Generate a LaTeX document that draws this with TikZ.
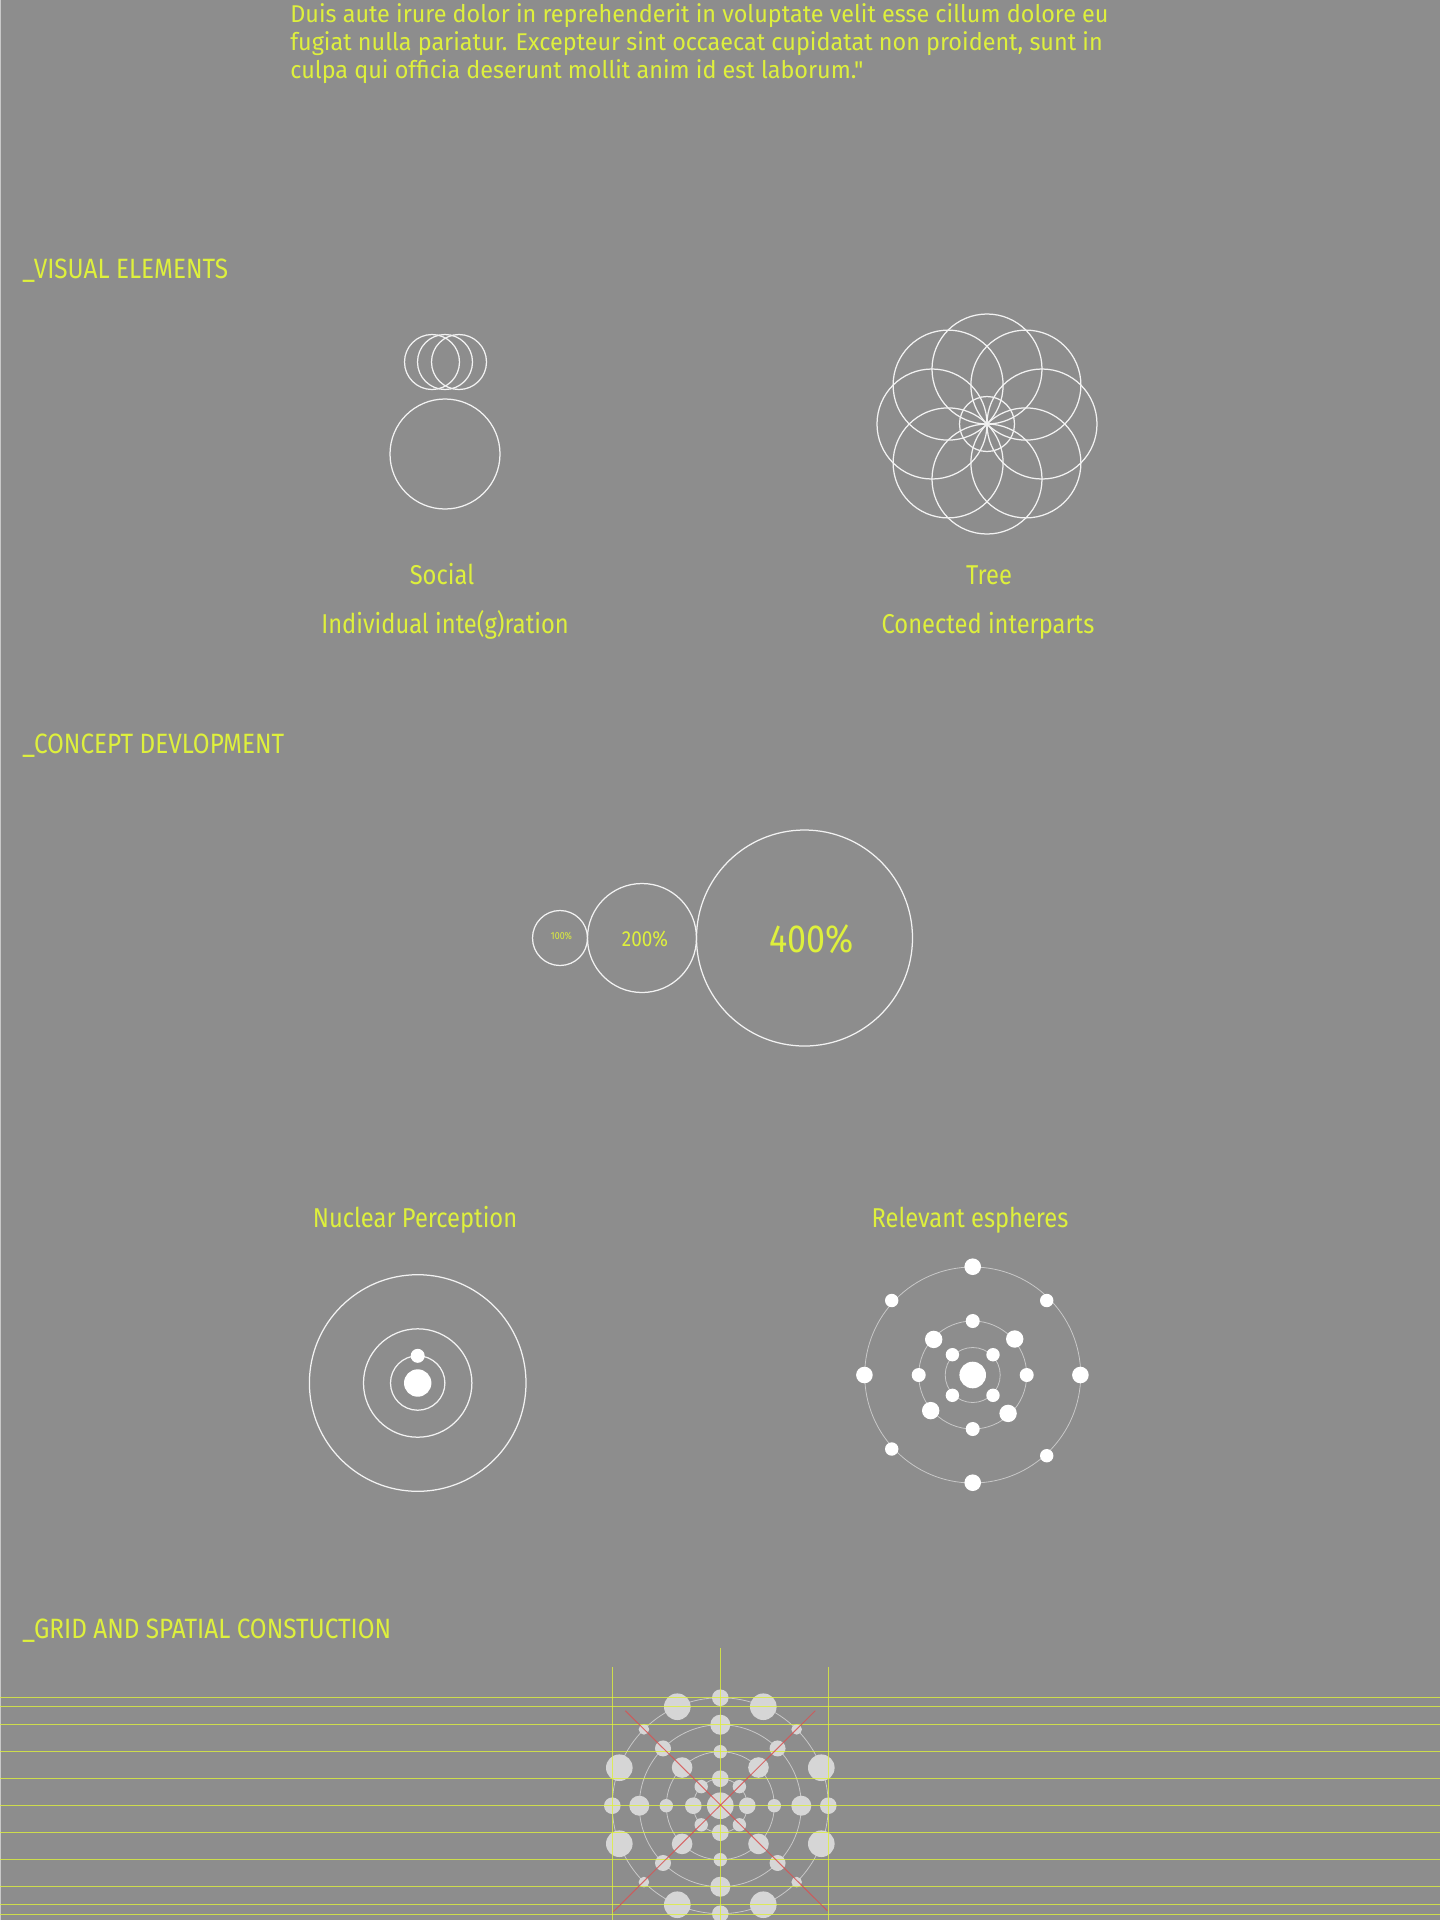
\documentclass[tikz,border=0pt]{standalone}
\usepackage{fontspec}
\setmainfont{Fira Sans}[FakeStretch=0.87]
\newfontfamily\parafont{Fira Sans}[FakeStretch=0.965, Ligatures=TeXOff]
\usepackage{tikz}

\definecolor{bg}{RGB}{141,141,141}
\definecolor{lime}{RGB}{222,240,60}
\definecolor{linew}{RGB}{242,242,242}
\definecolor{ringgray}{RGB}{200,200,200}
\definecolor{dotgray}{RGB}{214,214,214}
\definecolor{redline}{RGB}{214,84,84}

\tikzset{
  ring/.style={draw=linew, line width=0.25mm},
  thinring/.style={draw=ringgray, line width=0.16mm},
  fulldot/.style={fill=white},
  griddot/.style={fill=dotgray},
  bodytext/.style={anchor=base west, inner sep=0, text=lime, font=\parafont\fontsize{13.8}{16}\selectfont},
  heading/.style={anchor=base west, inner sep=0, text=lime, font=\fontsize{15.9}{18}\selectfont},
  caption/.style={anchor=base, inner sep=0, text=lime, font=\fontsize{15.5}{18}\selectfont},
  gridline/.style={draw=lime, line width=0.2mm, opacity=0.8},
  diagline/.style={draw=redline, line width=0.2mm, opacity=0.85},
}

\begin{document}
\begin{tikzpicture}[x=0.2mm, y=-0.2mm]

\useasboundingbox[fill=bg] (0,0) rectangle (1440,1920);
\draw[draw=ringgray, line width=0.2mm] (0.5,0) -- (0.5,1920);

% text on top
\node[bodytext] (par1) at (290,22) {Duis aute irure dolor in reprehenderit in voluptate velit esse cillum dolore eu};
\node[bodytext] (par2) at (290,50) {fugiat nulla pariatur. Excepteur sint occaecat cupidatat non proident, sunt in};
\node[bodytext] (par3) at (290,78) {culpa qui officia deserunt mollit anim id est laborum."};

\node[heading] (visual) at (22,278) {\_VISUAL ELEMENTS};
\node[heading] (concept) at (22,753) {\_CONCEPT DEVLOPMENT};
\node[heading] (gridhead) at (22,1638) {\_GRID AND SPATIAL CONSTUCTION};

% social
\coordinate (social) at (445,454);
\draw[ring] (432,362) circle[radius=27.5];
\draw[ring] (445,362) circle[radius=27.5];
\draw[ring] (459,362) circle[radius=27.5];
\draw[ring] (social) circle[radius=55];
\node[caption] (socialname) at (442,584) {Social};
\node[caption] (socialtext) at (445,633) {Individual inte(g)ration};

% tree
\coordinate (tree) at (987,424);
\foreach \a in {0,45,...,315}
  \draw[ring] (tree) ++(\a:55) circle[radius=55];
\draw[ring] (tree) circle[radius=27.5];
\node[caption] (treename) at (989,584) {Tree};
\node[caption] (treetext) at (988,633) {Conected interparts};

% scale circles
\coordinate (small) at (560,938);
\coordinate (medium) at (642,938);
\coordinate (large) at (804.5,938);
\draw[ring] (small) circle[radius=27.5];
\draw[ring] (medium) circle[radius=54.5];
\draw[ring] (large) circle[radius=108];
\node[anchor=base, inner sep=0, text=lime, font=\fontsize{5.8}{7}\selectfont] (p100) at (561.5,939.5) {100\%};
\node[anchor=base, inner sep=0, text=lime, font=\fontsize{12.4}{14}\selectfont] (p200) at (645,946) {200\%};
\node[anchor=base, inner sep=0, text=lime, font=\fontsize{22.3}{26}\selectfont] (p400) at (811.5,952.5) {400\%};

% nuclear
\coordinate (nuclear) at (417.7,1383);
\node[caption] (nuclearname) at (415,1227) {Nuclear Perception};
\foreach \r in {27.2,54.2,108.3}
  \draw[ring] (nuclear) circle[radius=\r];
\fill[fulldot] (nuclear) circle[radius=13.7];
\fill[fulldot] (nuclear) ++(0,-27.2) circle[radius=7];

% espheres
\coordinate (spheres) at (972.7,1375);
\node[caption] (spheresname) at (970,1227) {Relevant espheres};
\foreach \r in {27.5,54,108}
  \draw[thinring] (spheres) circle[radius=\r];
\fill[fulldot] (spheres) circle[radius=13.3];
\foreach \dx/\dy in {-20.3/-20.3,20.3/-20.3,-20.3/20.3,20.3/20.3}
  \fill[fulldot] (spheres) ++(\dx,\dy) circle[radius=6.7];
\foreach \dx/\dy in {0/-54,54/0,0/54,-54/0}
  \fill[fulldot] (spheres) ++(\dx,\dy) circle[radius=7];
\foreach \dx/\dy in {-39/-35.6,42/-36,-42/35.6,35.4/38.4}
  \fill[fulldot] (spheres) ++(\dx,\dy) circle[radius=8.7];
\foreach \dx/\dy in {0/-108.3,107.7/0,0/107.7,-108.3/0}
  \fill[fulldot] (spheres) ++(\dx,\dy) circle[radius=8.3];
\foreach \dx/\dy in {-81/-74.5,74/-74.5,-81/74,74/80.7}
  \fill[fulldot] (spheres) ++(\dx,\dy) circle[radius=6.7];

% grid
\coordinate (grid) at (720.3,1805.7);
\foreach \r in {27,54,81,108}
  \draw[thinring] (grid) circle[radius=\r];
\fill[griddot] (grid) circle[radius=13.3];
\foreach \a in {0,90,180,270} {
  \fill[griddot] (grid) ++(\a:27) circle[radius=8.3];
  \fill[griddot] (grid) ++(\a:54) circle[radius=6.7];
  \fill[griddot] (grid) ++(\a:81) circle[radius=10];
  \fill[griddot] (grid) ++(\a:108) circle[radius=8.3];
}
\foreach \a in {45,135,225,315} {
  \fill[griddot] (grid) ++(\a:27) circle[radius=6.7];
  \fill[griddot] (grid) ++(\a:54) circle[radius=10.3];
  \fill[griddot] (grid) ++(\a:81) circle[radius=8];
  \fill[griddot] (grid) ++(\a:108) circle[radius=5.3];
}
\foreach \dx/\dy in {101/38,-101/38,101/-38,-101/-38,43/99,-43/99,43/-99,-43/-99}
  \fill[griddot] (grid) ++(\dx,\dy) circle[radius=13.3];

\foreach \dy in {-108.5,-99.5,-81,-54.5,-27,0,27,54,81,98.5,108.5}
  \draw[gridline] (0,1805.7+\dy) -- (1440,1805.7+\dy);
\coordinate (vtop) at (720.3,1648);
\coordinate (vbot) at (720.3,1920);
\draw[gridline] (vtop) -- (vbot);
\draw[gridline] (612,1667) -- (612,1920);
\draw[gridline] (828,1667) -- (828,1920);

\draw[diagline] (grid) ++(-95,-95) -- ++(202,200);
\draw[diagline] (grid) ++(95,-95) -- ++(-202,201);

\end{tikzpicture}
\end{document}
